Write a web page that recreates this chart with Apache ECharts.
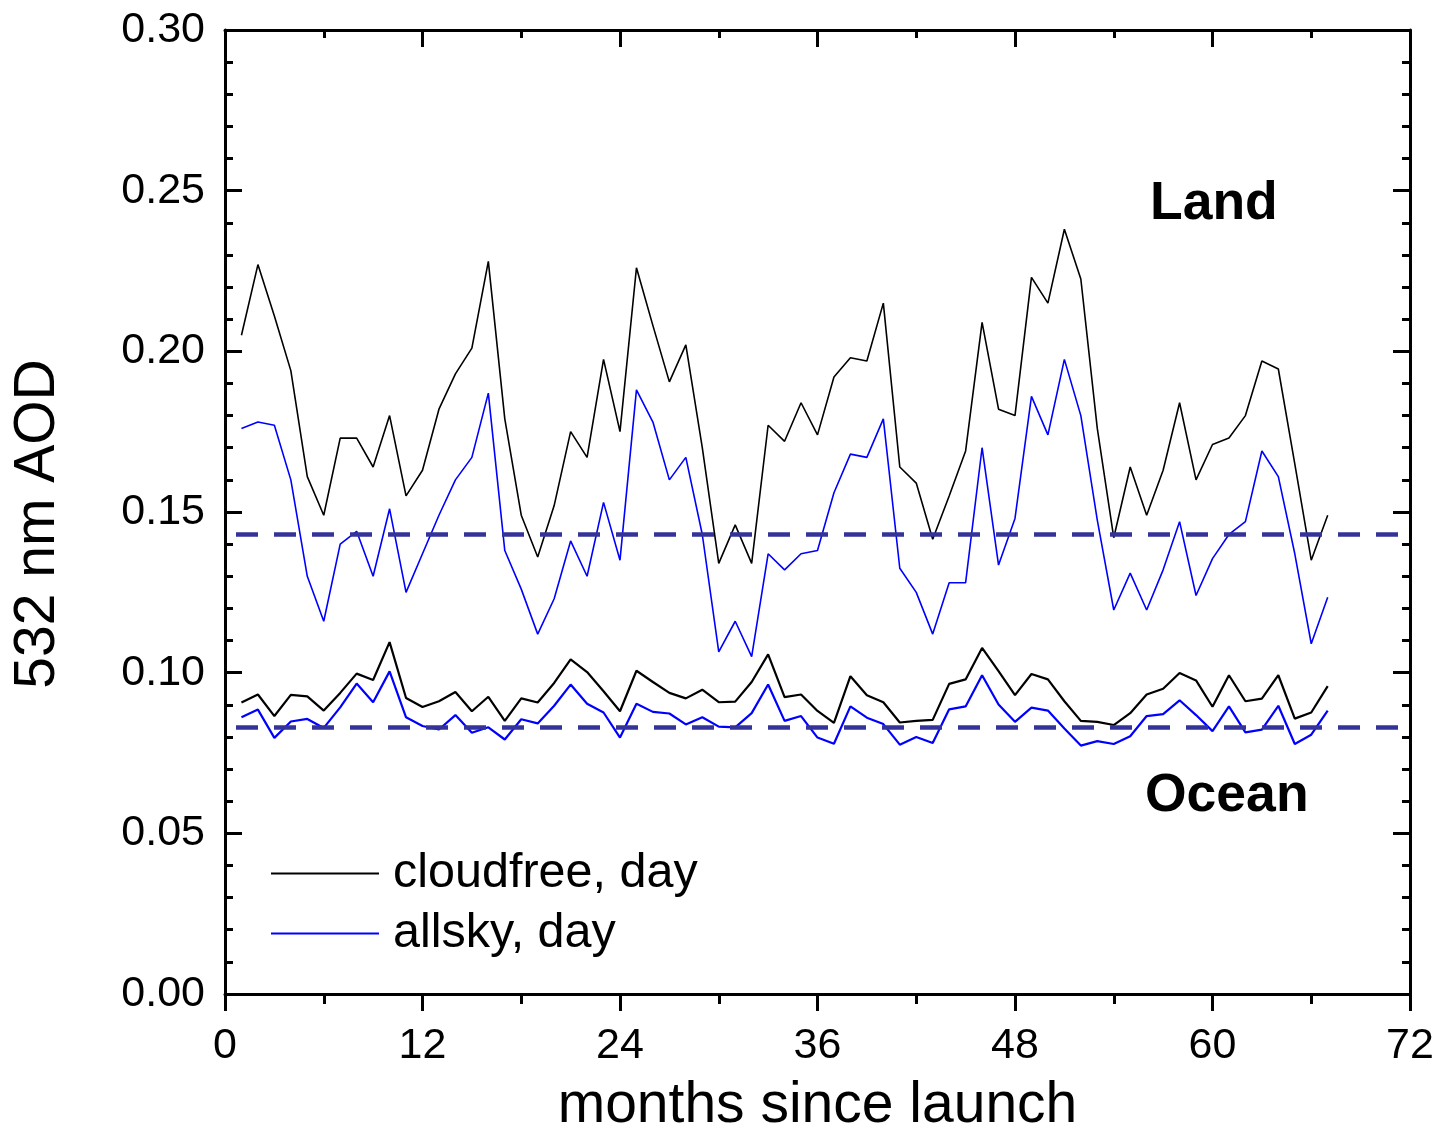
<!DOCTYPE html>
<html>
<head>
<meta charset="utf-8">
<script src="https://cdn.jsdelivr.net/npm/echarts@6/dist/echarts.min.js"></script>
<style>
html,body{margin:0;padding:0;background:#fff;overflow:hidden;}
#chart{width:100vw;height:100vh;}
</style>
</head>
<body>
<div id="chart"></div>
<script>
var months = [1,2,3,4,5,6,7,8,9,10,11,12,13,14,15,16,17,18,19,20,21,22,23,24,25,26,27,28,29,30,31,32,33,34,35,36,37,38,39,40,41,42,43,44,45,46,47,48,49,50,51,52,53,54,55,56,57,58,59,60,61,62,63,64,65,66,67];

var landCloudfree = [0.205,0.227,0.211,0.194,0.161,0.149,0.173,0.173,0.164,0.180,0.155,0.163,0.182,0.193,0.201,0.228,0.179,0.149,0.136,0.152,0.175,0.167,0.1975,0.175,0.226,0.208,0.1905,0.202,0.170,0.134,0.146,0.134,0.177,0.172,0.184,0.174,0.192,0.198,0.197,0.215,0.164,0.159,0.1415,0.155,0.169,0.209,0.182,0.180,0.223,0.215,0.238,0.2225,0.176,0.142,0.164,0.149,0.163,0.184,0.160,0.171,0.173,0.180,0.197,0.1945,0.165,0.135,0.149];

var landAllsky = [0.176,0.178,0.177,0.160,0.130,0.116,0.140,0.144,0.130,0.151,0.125,0.137,0.149,0.160,0.167,0.187,0.138,0.126,0.112,0.123,0.141,0.130,0.153,0.135,0.188,0.178,0.160,0.167,0.143,0.1065,0.116,0.105,0.137,0.132,0.137,0.138,0.156,0.168,0.167,0.179,0.1325,0.125,0.112,0.128,0.128,0.170,0.1335,0.148,0.186,0.174,0.1975,0.180,0.1475,0.1195,0.131,0.1195,0.132,0.147,0.124,0.1355,0.143,0.147,0.169,0.161,0.137,0.109,0.1235];

var oceanCloudfree = [0.0907,0.0932,0.0865,0.0931,0.0926,0.0882,0.0937,0.0997,0.0977,0.1095,0.0921,0.0893,0.0911,0.0940,0.0880,0.0925,0.0850,0.0920,0.0907,0.0968,0.1041,0.1002,0.0942,0.0880,0.1006,0.0971,0.0937,0.0920,0.0947,0.0908,0.0910,0.0971,0.1057,0.0924,0.0932,0.0881,0.0844,0.0989,0.0930,0.0908,0.0845,0.0850,0.0853,0.0965,0.0979,0.1077,0.1005,0.0930,0.0996,0.0979,0.0911,0.0850,0.0847,0.0837,0.0874,0.0932,0.0950,0.0999,0.0976,0.0894,0.0992,0.0911,0.0919,0.0992,0.0857,0.0876,0.0958];

var oceanAllsky = [0.0861,0.0885,0.0797,0.0848,0.0856,0.0828,0.0892,0.0966,0.0908,0.1004,0.0861,0.0834,0.0823,0.0868,0.0813,0.0830,0.0792,0.0855,0.0842,0.0897,0.0963,0.0903,0.0876,0.0798,0.0903,0.0878,0.0873,0.0839,0.0861,0.0832,0.0830,0.0874,0.0963,0.0850,0.0865,0.0798,0.0779,0.0895,0.0860,0.0840,0.0776,0.0800,0.0781,0.0886,0.0895,0.0992,0.0901,0.0847,0.0891,0.0882,0.0826,0.0773,0.0787,0.0778,0.0802,0.0865,0.0871,0.0914,0.0868,0.0818,0.0895,0.0814,0.0823,0.0897,0.0778,0.0807,0.0882];

var landMean = 0.143;
var oceanMean = 0.083;

var xTicks = [0,12,24,36,48,60,72];
var yTicks = [0.00,0.05,0.10,0.15,0.20,0.25,0.30];
var legendNames = ['cloudfree, day','allsky, day'];
var regionLabels = ['Land','Ocean'];

function pairs(vals){ return vals.map(function(v,i){ return [months[i], v]; }); }

var FONT = "'Liberation Sans', Arial, sans-serif";
var dashStyle = {color:'#333399', width:4.5, type:[22,16], dashOffset:27, opacity:1};

function meanLine(v){
  return {
    silent:true, symbol:['none','none'], animation:false, precision:6,
    label:{show:false},
    lineStyle:dashStyle,
    emphasis:{disabled:true},
    data:[{yAxis:v}]
  };
}

var axisLineStyle = {color:'#000', width:3};
var tickStyle = {width:3, color:'#000'};

var chart = echarts.init(document.getElementById('chart'), null, {renderer:'canvas'});
chart.setOption({
  animation:false,
  backgroundColor:'#fff',
  grid:{left:225, right:29, top:30, bottom:134, containLabel:false, outerBoundsMode:'none'},
  legend:{
    data:legendNames,
    orient:'vertical',
    left:266, top:844,
    itemWidth:108, itemHeight:48, itemGap:11,
    selectedMode:false,
    icon:'path://M0,0H108V2H0Z',
    lineStyle:{width:2},
    textStyle:{fontFamily:FONT, fontSize:48.5, color:'#000', padding:[0,0,0,9]}
  },
  xAxis:[{
    type:'value', min:xTicks[0], max:xTicks[xTicks.length-1], interval:12,
    position:'bottom',
    name:'months since launch', nameLocation:'middle', nameGap:84,
    nameTextStyle:{fontFamily:FONT, fontSize:57, color:'#000'},
    axisLine:{show:true, onZero:false, lineStyle:axisLineStyle},
    axisTick:{show:true, inside:false, length:17, lineStyle:tickStyle},
    minorTick:{show:true, splitNumber:2, length:10, lineStyle:tickStyle},
    axisLabel:{fontFamily:FONT, fontSize:43, color:'#000', margin:31},
    splitLine:{show:false}
  },{
    type:'value', min:xTicks[0], max:xTicks[xTicks.length-1], interval:12,
    position:'top',
    axisLine:{show:true, onZero:false, lineStyle:axisLineStyle},
    axisTick:{show:true, inside:true, length:17, lineStyle:tickStyle},
    minorTick:{show:true, splitNumber:2, length:8, lineStyle:tickStyle},
    axisLabel:{show:false},
    splitLine:{show:false}
  }],
  yAxis:[{
    type:'value', min:yTicks[0], max:yTicks[yTicks.length-1], interval:0.05,
    position:'left',
    name:'532 nm AOD', nameLocation:'middle', nameGap:158, nameRotate:90,
    nameTextStyle:{fontFamily:FONT, fontSize:57, color:'#000', padding:[0,24,0,0]},
    axisLine:{show:true, onZero:false, lineStyle:axisLineStyle},
    axisTick:{show:true, inside:true, length:17, lineStyle:tickStyle},
    minorTick:{show:true, splitNumber:5, length:8, lineStyle:tickStyle},
    axisLabel:{fontFamily:FONT, fontSize:43, color:'#000', margin:20,
      formatter:function(v){ return v.toFixed(2); }},
    splitLine:{show:false}
  },{
    type:'value', min:yTicks[0], max:yTicks[yTicks.length-1], interval:0.05,
    position:'right',
    axisLine:{show:true, onZero:false, lineStyle:axisLineStyle},
    axisTick:{show:true, inside:true, length:17, lineStyle:tickStyle},
    minorTick:{show:true, splitNumber:5, length:8, lineStyle:tickStyle},
    axisLabel:{show:false},
    splitLine:{show:false}
  }],
  series:[
    {name:legendNames[0], type:'line', data:pairs(landCloudfree), symbol:'none',
     lineStyle:{color:'#000', width:1.6}, itemStyle:{color:'#000'}, z:3,
     markLine:meanLine(landMean)},
    {name:legendNames[1], type:'line', data:pairs(landAllsky), symbol:'none',
     lineStyle:{color:'#0000ff', width:1.6}, itemStyle:{color:'#0000ff'}, z:3},
    {name:legendNames[0], type:'line', data:pairs(oceanCloudfree), symbol:'none',
     lineStyle:{color:'#000', width:2.2}, itemStyle:{color:'#000'}, z:3,
     markLine:meanLine(oceanMean)},
    {name:legendNames[1], type:'line', data:pairs(oceanAllsky), symbol:'none',
     lineStyle:{color:'#0000ff', width:2.2}, itemStyle:{color:'#0000ff'}, z:3}
  ],
  graphic:[
    {type:'text', left:1150, top:177, style:{text:regionLabels[0], font:"bold 53.5px 'Liberation Sans', Arial, sans-serif", fill:'#000'}},
    {type:'text', left:1145, top:769, style:{text:regionLabels[1], font:"bold 53.5px 'Liberation Sans', Arial, sans-serif", fill:'#000'}}
  ]
});
</script>
</body>
</html>
